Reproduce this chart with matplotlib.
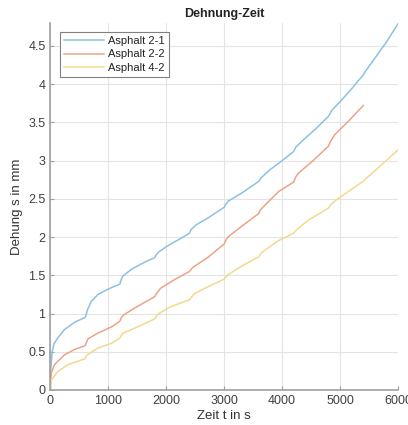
import numpy as np
import matplotlib
matplotlib.use('Agg')
import matplotlib.pyplot as plt

plt.rcParams['font.family'] = ['Liberation Sans', 'DejaVu Sans']

# values (time in s, strain in mm)
t_21 = [0, 10, 30, 60, 127, 243, 417, 600,
        615, 640, 707, 823, 997, 1200,
        1215, 1250, 1403, 1635, 1800,
        1820, 1860, 2023, 2255, 2400,
        2430, 2517, 2720, 3000,
        3030, 3070, 3300, 3600,
        3630, 3789, 4000, 4200,
        4240, 4365, 4600, 4800,
        4860, 5000, 5200, 5400,
        5440, 5517, 5800, 6000]
s_21 = [0, 0.30, 0.50, 0.60, 0.68, 0.79, 0.885, 0.95,
        0.98, 1.05, 1.16, 1.25, 1.32, 1.385,
        1.43, 1.49, 1.58, 1.675, 1.73,
        1.76, 1.80, 1.885, 1.985, 2.05,
        2.10, 2.16, 2.25, 2.39,
        2.43, 2.47, 2.575, 2.73,
        2.77, 2.88, 3.00, 3.12,
        3.18, 3.27, 3.43, 3.58,
        3.66, 3.77, 3.94, 4.12,
        4.17, 4.25, 4.55, 4.79]

t_22 = [0, 5, 15, 70, 243, 417, 600,
        620, 650, 823, 1055, 1200,
        1220, 1260, 1461, 1635, 1800,
        1830, 1902, 2135, 2400,
        2430, 2470, 2720, 3000,
        3030, 3070, 3300, 3600,
        3620, 3680, 3939, 4200,
        4230, 4280, 4550, 4800,
        4840, 4910, 5150, 5400]
s_22 = [0, 0.15, 0.22, 0.33, 0.46, 0.53, 0.58,
        0.62, 0.67, 0.745, 0.825, 0.90,
        0.94, 0.98, 1.075, 1.15, 1.22,
        1.26, 1.33, 1.44, 1.55,
        1.58, 1.61, 1.735, 1.91,
        1.96, 2.005, 2.14, 2.31,
        2.35, 2.40, 2.595, 2.72,
        2.78, 2.835, 3.01, 3.19,
        3.26, 3.34, 3.52, 3.72]

t_42 = [0, 5, 15, 127, 301, 600,
        615, 640, 823, 1055, 1200,
        1220, 1260, 1519, 1800,
        1830, 1870, 2081, 2400,
        2440, 2488, 2720, 3000,
        3030, 3060, 3300, 3600,
        3630, 3670, 3939, 4200,
        4240, 4450, 4800,
        4850, 4941, 5400,
        5450, 5517, 6000]
s_42 = [0, 0.08, 0.13, 0.24, 0.33, 0.41,
        0.44, 0.46, 0.55, 0.61, 0.68,
        0.71, 0.745, 0.83, 0.93,
        0.97, 1.00, 1.09, 1.18,
        1.22, 1.26, 1.35, 1.45,
        1.48, 1.505, 1.62, 1.745,
        1.78, 1.81, 1.955, 2.05,
        2.09, 2.22, 2.38,
        2.43, 2.49, 2.73,
        2.77, 2.81, 3.14]

labels = ['Asphalt 2-1', 'Asphalt 2-2', 'Asphalt 4-2']
colors = ['#8cc0e4', '#eca486', '#f5d88e']

fig = plt.figure(figsize=(4.08, 4.25), dpi=100)
ax = fig.add_axes([0.1235, 0.0824, 0.852, 0.8635])

for t, s, lab, c in zip([t_21, t_22, t_42], [s_21, s_22, s_42], labels, colors):
    ax.plot(t, s, color=c, lw=1.1, label=lab)

ax.set_xlim(0, 6000)
ax.set_ylim(0, 4.8)
ax.set_xticks(np.arange(0, 6001, 1000))
ax.set_yticks(np.arange(0, 4.51, 0.5))
ax.set_yticklabels(['0', '0.5', '1', '1.5', '2', '2.5', '3', '3.5', '4', '4.5'])
ax.grid(True, color='#e4e4e4', lw=0.8)
ax.set_axisbelow(True)
for sp in ['top', 'right']:
    ax.spines[sp].set_visible(False)
for sp in ['left', 'bottom']:
    ax.spines[sp].set_color('#a0a0a0')
    ax.spines[sp].set_linewidth(1.2)
ax.tick_params(direction='in', length=3, colors='#a0a0a0', labelcolor='#404040', labelsize=9)

ax.set_title('Dehnung-Zeit', fontsize=9, fontweight='bold', color='#222222', pad=4)
ax.set_xlabel('Zeit t in s', fontsize=9.5, color='#333333', labelpad=2)
ax.set_ylabel('Dehung s in mm', fontsize=9.5, color='#333333', labelpad=4)

leg = ax.legend(loc='upper left', bbox_to_anchor=(0.012, 0.99), fontsize=8,
                fancybox=False, framealpha=1, edgecolor='#808080',
                handlelength=3.6, borderpad=0.35, labelspacing=0.3, handletextpad=0.4)
leg.get_frame().set_linewidth(0.8)
for txt in leg.get_texts():
    txt.set_color('#222222')

fig.savefig('out.png', dpi=100)
